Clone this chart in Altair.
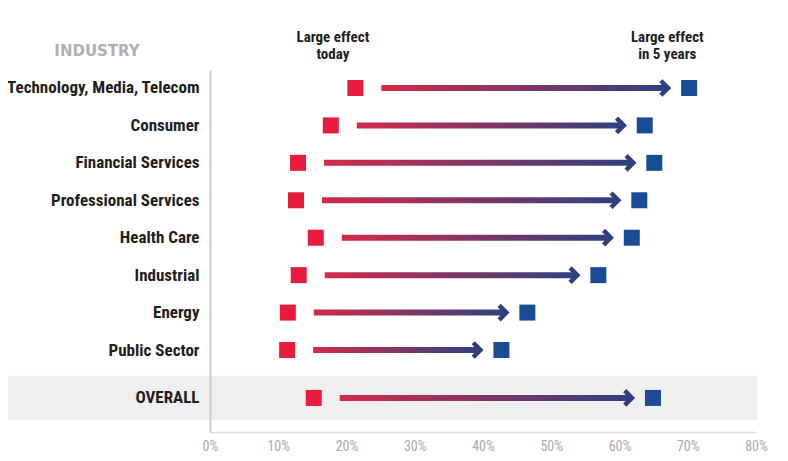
import altair as alt
import pandas as pd

industries = ["Technology, Media, Telecom", "Consumer", "Financial Services",
              "Professional Services", "Health Care", "Industrial", "Energy",
              "Public Sector", "OVERALL"]
today = [21.3, 17.7, 12.9, 12.6, 15.5, 13.0, 11.4, 11.3, 15.2]
in_5_years = [70.2, 63.7, 65.1, 62.9, 61.8, 56.9, 46.5, 42.7, 64.9]
x_ticks = [0, 10, 20, 30, 40, 50, 60, 70, 80]
headers = ["Large effect\ntoday", "Large effect\nin 5 years"]
header_x = [18, 67]

OVERALL_GAP = 1.28
pos = [float(i) for i in range(8)] + [7 + OVERALL_GAP]

df = pd.DataFrame({"industry": industries, "today": today, "future": in_5_years, "pos": pos})
band_df = pd.DataFrame({"lo": [pos[-1] - 0.59], "hi": [pos[-1] + 0.59]})
hdr_df = pd.DataFrame({"label": headers, "x": header_x})

FONT = "Roboto Condensed, Liberation Sans Narrow, DejaVu Sans Condensed, sans-serif"
label_arr = "[" + ",".join("'" + s + "'" for s in industries[:8]) + "]"

W, H = 546, 362
xscale = alt.Scale(domain=[0, 80], nice=False, zero=False, padding=0)
yscale = alt.Scale(domain=[-0.48, 9.19], reverse=True, nice=False, zero=False, padding=0)

band = alt.Chart(band_df).mark_rect(color="#efefef").encode(
    x=alt.value(-202), x2=alt.value(W + 1),
    y=alt.Y("lo:Q", scale=yscale), y2="hi:Q")

base = alt.Chart(df)

shaft = base.mark_bar(
    orient="horizontal", size=6, xOffset=26, x2Offset=-24,
    color=alt.LinearGradient(gradient="linear",
                             stops=[alt.GradientStop(offset=0, color="#d42a4a"),
                                    alt.GradientStop(offset=1, color="#2f417f")],
                             x1=0, x2=1, y1=0, y2=0)
).encode(
    x=alt.X("today:Q", scale=xscale,
            axis=alt.Axis(values=x_ticks, labelExpr="datum.value + '%'", title=None,
                          grid=False, ticks=False, domainColor="#dddddd", domainWidth=1.5,
                          labelColor="#aaaaaa", labelFont=FONT, labelFontSize=14,
                          labelPadding=7, labelFlush=False, zindex=1)),
    x2="future:Q",
    y=alt.Y("pos:Q", scale=yscale,
            axis=alt.Axis(values=pos, title=None, grid=False, ticks=False,
                          domainColor="#cccccc", domainWidth=2,
                          labelExpr="datum.value > 7.5 ? 'OVERALL' : " + label_arr + "[round(datum.value)]",
                          labelFont=FONT, labelFontWeight="bold", labelFontSize=17,
                          labelColor="#1e1e1e", labelPadding=11, labelOverlap=False,
                          labelLimit=300, labelFlush=False, zindex=1)),
)

head = base.mark_point(
    shape="M-1,-1L0,0L-1,1", size=210, filled=False, strokeWidth=4.5,
    color="#2d3f7e", opacity=1, xOffset=-21, strokeJoin="miter"
).encode(x=alt.X("future:Q", scale=xscale), y=alt.Y("pos:Q", scale=yscale))

red = base.mark_square(size=256, color="#e61b3d", opacity=1).encode(
    x=alt.X("today:Q", scale=xscale), y=alt.Y("pos:Q", scale=yscale))
blue = base.mark_square(size=256, color="#1c4b95", opacity=1).encode(
    x=alt.X("future:Q", scale=xscale), y=alt.Y("pos:Q", scale=yscale))

hdr = alt.Chart(hdr_df).mark_text(
    font=FONT, fontWeight="bold", fontSize=15, color="#1e1e1e",
    lineBreak="\n", baseline="middle", align="center", lineHeight=17
).encode(x=alt.X("x:Q", scale=xscale), y=alt.value(-33), text="label:N")

ind = alt.Chart(pd.DataFrame({"t": ["INDUSTRY"]})).mark_text(
    font="DejaVu Sans", fontWeight="bold", fontSize=15, color="#b0b0b0",
    align="center", baseline="middle"
).encode(x=alt.value(-113), y=alt.value(-19), text="t:N")

chart = alt.layer(band, shaft, head, red, blue, hdr, ind).properties(
    width=W, height=H, autosize="none", background="white",
    padding={"left": 202, "top": 62, "right": 20, "bottom": 30}
).configure_view(stroke=None)

chart.save("out.html", embed_options={"renderer": "svg", "actions": False})
